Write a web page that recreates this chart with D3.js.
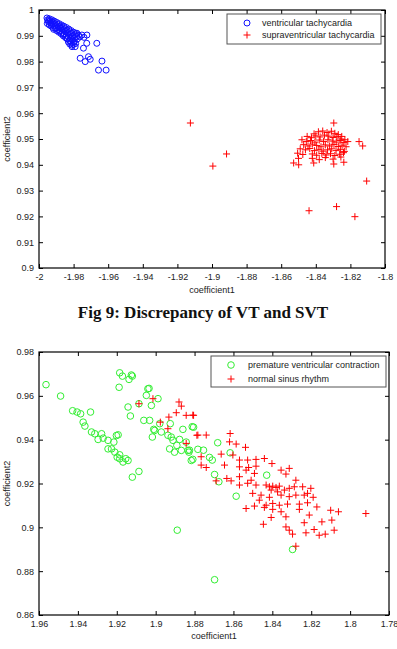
<!DOCTYPE html>
<html>
<head>
<meta charset="utf-8">
<script src="https://cdn.jsdelivr.net/npm/d3@7"></script>
<style>
  body { margin: 0; background: #fff; }
</style>
</head>
<body>
<script>
// ---- data: Fig 9, VT vs SVT (coefficient1, coefficient2)
const vtPoints = [
  [-1.9954,0.9969],[-1.9950,0.9962],[-1.9946,0.9955],[-1.9940,0.9966],[-1.9936,0.9958],[-1.9932,0.9950],
  [-1.9926,0.9962],[-1.9922,0.9953],[-1.9918,0.9945],[-1.9912,0.9957],[-1.9908,0.9948],[-1.9904,0.9940],
  [-1.9898,0.9952],[-1.9894,0.9944],[-1.9890,0.9935],[-1.9884,0.9947],[-1.9880,0.9938],[-1.9876,0.9930],
  [-1.9870,0.9942],[-1.9866,0.9933],[-1.9862,0.9924],[-1.9856,0.9937],[-1.9852,0.9928],[-1.9848,0.9918],
  [-1.9842,0.9932],[-1.9838,0.9922],[-1.9834,0.9912],[-1.9828,0.9926],[-1.9824,0.9916],[-1.9820,0.9906],
  [-1.9814,0.9920],[-1.9810,0.9910],[-1.9806,0.9900],[-1.9800,0.9914],[-1.9796,0.9904],[-1.9792,0.9894],
  [-1.9786,0.9908],[-1.9782,0.9898],[-1.9778,0.9888],[-1.9772,0.9902],[-1.9781,0.9910],[-1.9752,0.9903],
  [-1.9723,0.9903],[-1.9809,0.9858],[-1.9810,0.9864],[-1.9791,0.9858],[-1.9724,0.9871],[-1.9666,0.9871],
  [-1.9743,0.9852],[-1.9762,0.9813],[-1.9714,0.9819],[-1.9733,0.9800],[-1.9704,0.9809],[-1.9636,0.9802],
  [-1.9656,0.9767],[-1.9612,0.9767],[-1.9840,0.9890],[-1.9860,0.9905],[-1.9820,0.9880],[-1.9800,0.9875],
  [-1.9952,0.9948],[-1.9940,0.9942],[-1.9930,0.9938],[-1.9920,0.9932],[-1.9915,0.9925],[-1.9905,0.9928],
  [-1.9898,0.9920],[-1.9890,0.9924],[-1.9885,0.9914],[-1.9878,0.9918],[-1.9872,0.9908],[-1.9866,0.9914],
  [-1.9860,0.9900],[-1.9855,0.9908],[-1.9848,0.9894],[-1.9842,0.9902],[-1.9836,0.9888],[-1.9830,0.9895],
  [-1.9825,0.9882],[-1.9818,0.9890],[-1.9814,0.9874],[-1.9806,0.9884],[-1.9800,0.9868],[-1.9795,0.9878],
  [-1.9788,0.9870],[-1.9830,0.9876],[-1.9822,0.9868],[-1.9944,0.9960],[-1.9928,0.9944],[-1.9900,0.9930],
  [-1.9764,0.9896],[-1.9740,0.9894]
];
const svtPoints = [
  [-1.8410,0.9520],[-1.8385,0.9528],[-1.8360,0.9531],[-1.8335,0.9525],[-1.8310,0.9530],[-1.8290,0.9522],
  [-1.8270,0.9517],[-1.8250,0.9510],[-1.8450,0.9510],[-1.8425,0.9505],[-1.8400,0.9512],[-1.8375,0.9508],
  [-1.8350,0.9515],[-1.8325,0.9511],[-1.8300,0.9506],[-1.8278,0.9509],[-1.8255,0.9500],[-1.8232,0.9497],
  [-1.8480,0.9497],[-1.8455,0.9490],[-1.8430,0.9494],[-1.8405,0.9488],[-1.8380,0.9496],[-1.8355,0.9490],
  [-1.8330,0.9497],[-1.8305,0.9492],[-1.8282,0.9488],[-1.8260,0.9494],[-1.8238,0.9486],[-1.8215,0.9490],
  [-1.8470,0.9478],[-1.8445,0.9473],[-1.8420,0.9480],[-1.8395,0.9475],[-1.8370,0.9470],[-1.8345,0.9477],
  [-1.8320,0.9473],[-1.8295,0.9479],[-1.8270,0.9471],[-1.8248,0.9476],[-1.8225,0.9470],[-1.8490,0.9462],
  [-1.8460,0.9458],[-1.8435,0.9463],[-1.8408,0.9455],[-1.8382,0.9460],[-1.8357,0.9453],[-1.8332,0.9458],
  [-1.8308,0.9462],[-1.8283,0.9455],[-1.8258,0.9460],[-1.8235,0.9452],[-1.8505,0.9445],[-1.8475,0.9440],
  [-1.8420,0.9442],[-1.8395,0.9437],[-1.8365,0.9444],[-1.8340,0.9438],[-1.8315,0.9443],[-1.8290,0.9436],
  [-1.8262,0.9441],[-1.8240,0.9447],[-1.8420,0.9425],[-1.8380,0.9420],[-1.8345,0.9428],[-1.8300,0.9422],
  [-1.8255,0.9430],[-1.8528,0.9407],[-1.8499,0.9400],[-1.8412,0.9407],[-1.8296,0.9403],[-1.8238,0.9410],
  [-1.8500,0.9425],[-1.8296,0.9562],[-1.8129,0.9473],[-1.8150,0.9490],[-1.8106,0.9337],[-1.8439,0.9222],
  [-1.8280,0.9238],[-1.8174,0.9199],[-1.8995,0.9395],[-1.8916,0.9442],[-1.9125,0.9562]
];
const topXTicks = [-2, -1.98, -1.96, -1.94, -1.92, -1.9, -1.88, -1.86, -1.84, -1.82, -1.8];
const topXLabels = ["-2", "-1.98", "-1.96", "-1.94", "-1.92", "-1.9", "-1.88", "-1.86", "-1.84", "-1.82", "-1.8"];
const topYTicks = [0.9, 0.91, 0.92, 0.93, 0.94, 0.95, 0.96, 0.97, 0.98, 0.99, 1];
const topYLabels = ["0.9", "0.91", "0.92", "0.93", "0.94", "0.95", "0.96", "0.97", "0.98", "0.99", "1"];
const topSeries = ["ventricular tachycardia", "supraventricular tachycardia"];

// ---- data: PVC vs NSR
const pvcPoints = [
  [1.9564,0.9651],[1.9489,0.9599],[1.9427,0.9532],[1.9404,0.9526],[1.9386,0.9518],[1.9335,0.9526],
  [1.9373,0.9480],[1.9364,0.9462],[1.9330,0.9435],[1.9313,0.9427],[1.9278,0.9427],[1.9270,0.9407],
  [1.9245,0.9397],[1.9193,0.9422],[1.9215,0.9389],[1.9227,0.9358],[1.9210,0.9343],[1.9198,0.9320],
  [1.9185,0.9313],[1.9142,0.9305],[1.9168,0.9298],[1.9120,0.9229],[1.9086,0.9255],[1.9185,0.9705],
  [1.9171,0.9690],[1.9120,0.9690],[1.9137,0.9675],[1.9188,0.9639],[1.9040,0.9632],[1.9048,0.9602],
  [1.8988,0.9587],[1.9022,0.9556],[1.9086,0.9564],[1.9142,0.9549],[1.9130,0.9508],[1.9061,0.9488],
  [1.9031,0.9488],[1.9010,0.9447],[1.8979,0.9473],[1.8925,0.9473],[1.9017,0.9412],[1.8971,0.9435],
  [1.8937,0.9420],[1.8911,0.9397],[1.8928,0.9358],[1.8891,0.9374],[1.8860,0.9447],[1.8843,0.9389],
  [1.8834,0.9351],[1.8817,0.9305],[1.8805,0.9457],[1.9125,0.9695],[1.9034,0.9634],[1.8812,0.9459],
  [1.8826,0.9352],[1.8783,0.9356],[1.8754,0.9352],[1.8723,0.9319],[1.8709,0.9307],[1.8809,0.9310],
  [1.8681,0.9386],[1.8617,0.9340],[1.8697,0.9241],[1.8675,0.9208],[1.8586,0.9142],[1.8429,0.9238],
  [1.8296,0.8899],[1.8889,0.8987],[1.8697,0.8761],[1.8829,0.9343],[1.9005,0.9442],[1.8920,0.9412],
  [1.8877,0.9401],[1.8903,0.9343],[1.8868,0.9351],[1.9296,0.9401],[1.9245,0.9358],[1.9202,0.9419],
  [1.9185,0.9331],[1.9154,0.9313]
];
const nsrPoints = [
  [1.9086,0.9564],[1.9014,0.9587],[1.8880,0.9572],[1.8868,0.9553],[1.8894,0.9523],[1.8843,0.9511],
  [1.8805,0.9511],[1.8932,0.9503],[1.8937,0.9450],[1.8976,0.9480],[1.8788,0.9420],[1.8809,0.9512],
  [1.8783,0.9421],[1.8740,0.9421],[1.8617,0.9428],[1.8620,0.9390],[1.8586,0.9380],[1.8538,0.9365],
  [1.8663,0.9334],[1.8603,0.9330],[1.8569,0.9307],[1.8766,0.9322],[1.8766,0.9284],[1.8740,0.9273],
  [1.8646,0.9284],[1.8527,0.9307],[1.8484,0.9310],[1.8441,0.9314],[1.8484,0.9279],[1.8402,0.9291],
  [1.8535,0.9261],[1.8492,0.9246],[1.8355,0.9261],[1.8313,0.9269],[1.8330,0.9243],[1.8279,0.9215],
  [1.8689,0.9212],[1.8634,0.9223],[1.8612,0.9212],[1.8569,0.9193],[1.8569,0.9231],[1.8527,0.9201],
  [1.8509,0.9215],[1.8484,0.9193],[1.8432,0.9193],[1.8415,0.9185],[1.8398,0.9188],[1.8381,0.9182],
  [1.8364,0.9188],[1.8406,0.9170],[1.8373,0.9162],[1.8338,0.9170],[1.8313,0.9178],[1.8287,0.9185],
  [1.8244,0.9185],[1.8202,0.9178],[1.8219,0.9155],[1.8190,0.9137],[1.8501,0.9155],[1.8458,0.9147],
  [1.8355,0.9147],[1.8415,0.9137],[1.8313,0.9140],[1.8279,0.9147],[1.8236,0.9147],[1.8467,0.9124],
  [1.8398,0.9109],[1.8432,0.9101],[1.8364,0.9101],[1.8322,0.9106],[1.8261,0.9106],[1.8219,0.9112],
  [1.8535,0.9086],[1.8492,0.9097],[1.8441,0.9091],[1.8398,0.9082],[1.8355,0.9071],[1.8261,0.9082],
  [1.8210,0.9056],[1.8171,0.9093],[1.8100,0.9078],[1.8060,0.9071],[1.7919,0.9063],[1.8406,0.9045],
  [1.8330,0.9048],[1.8446,0.9014],[1.8330,0.9002],[1.8236,0.9021],[1.8145,0.9025],[1.8094,0.9033],
  [1.8296,0.8969],[1.8227,0.8975],[1.8185,0.8990],[1.8159,0.8964],[1.8128,0.8969],[1.8082,0.8987],
  [1.8279,0.8914],[1.8313,0.8987],[1.8843,0.9383],[1.8569,0.9276],[1.8522,0.9273]
];
const botXTicks = [1.96, 1.94, 1.92, 1.9, 1.88, 1.86, 1.84, 1.82, 1.8, 1.78];
const botXLabels = ["1.96", "1.94", "1.92", "1.9", "1.88", "1.86", "1.84", "1.82", "1.8", "1.78"];
const botYTicks = [0.86, 0.88, 0.9, 0.92, 0.94, 0.96, 0.98];
const botYLabels = ["0.86", "0.88", "0.9", "0.92", "0.94", "0.96", "0.98"];
const botSeries = ["premature ventricular contraction", "normal sinus rhythm"];

const caption = "Fig 9: Discrepancy of VT and SVT";

const sans = "Liberation Sans, Arial, sans-serif";

const svg = d3.select("body")
  .append("svg")
  .attr("width", 397)
  .attr("height", 649);

const plusPath = "M-3.5,0H3.5M0,-3.5V3.5";

// draws one matlab-style scatter panel
function panel(o) {
  const x = d3.scaleLinear().domain(o.xDomain).range([o.left, o.right]);
  const y = d3.scaleLinear().domain(o.yDomain).range([o.bottom, o.top]);
  const g = svg.append("g");

  const fmt = (ticks, labels) => (d => labels[ticks.indexOf(d)]);

  g.append("g")
    .attr("transform", "translate(0," + o.bottom + ")")
    .call(d3.axisBottom(x).tickValues(o.xTicks).tickFormat(fmt(o.xTicks, o.xLabels))
      .tickSizeInner(-4).tickSizeOuter(0).tickPadding(6));
  g.append("g")
    .attr("transform", "translate(0," + o.top + ")")
    .call(d3.axisTop(x).tickValues(o.xTicks).tickFormat("").tickSizeInner(-4).tickSizeOuter(0));
  g.append("g")
    .attr("transform", "translate(" + o.left + ",0)")
    .call(d3.axisLeft(y).tickValues(o.yTicks).tickFormat(fmt(o.yTicks, o.yLabels))
      .tickSizeInner(-4).tickSizeOuter(0).tickPadding(5));
  g.append("g")
    .attr("transform", "translate(" + o.right + ",0)")
    .call(d3.axisRight(y).tickValues(o.yTicks).tickFormat("").tickSizeInner(-4).tickSizeOuter(0));

  g.selectAll(".domain").remove();
  g.selectAll(".tick line").attr("stroke", "#000");
  g.selectAll(".tick text")
    .attr("font-family", sans)
    .attr("font-size", 9)
    .attr("fill", "#222");

  // box
  g.append("rect")
    .attr("x", o.left).attr("y", o.top)
    .attr("width", o.right - o.left).attr("height", o.bottom - o.top)
    .attr("fill", "none").attr("stroke", "#000").attr("stroke-width", 1.2);

  // series 1: circles
  g.append("g").selectAll("circle")
    .data(o.circles)
    .enter().append("circle")
    .attr("cx", d => x(d[0]))
    .attr("cy", d => y(d[1]))
    .attr("r", o.r)
    .attr("fill", "none")
    .attr("stroke", o.circleColor)
    .attr("stroke-width", 1);

  // series 2: plus signs
  g.append("g").selectAll("path")
    .data(o.pluses)
    .enter().append("path")
    .attr("transform", d => "translate(" + x(d[0]) + "," + y(d[1]) + ")")
    .attr("d", plusPath)
    .attr("stroke", "#ff0000")
    .attr("stroke-width", 1);

  // legend
  const lg = o.legend;
  g.append("rect")
    .attr("x", lg.x).attr("y", lg.y)
    .attr("width", lg.w).attr("height", lg.h)
    .attr("fill", "#fff").attr("stroke", "#555").attr("stroke-width", 1);
  g.append("circle")
    .attr("cx", lg.mx).attr("cy", lg.row1)
    .attr("r", o.r).attr("fill", "none").attr("stroke", o.circleColor);
  g.append("path")
    .attr("transform", "translate(" + lg.mx + "," + lg.row2 + ")")
    .attr("d", plusPath).attr("stroke", "#ff0000");
  g.selectAll(".legtext")
    .data(o.series)
    .enter().append("text")
    .attr("class", "legtext")
    .attr("x", lg.tx)
    .attr("y", (d, i) => (i === 0 ? lg.row1 : lg.row2) + 3)
    .attr("font-family", sans)
    .attr("font-size", 9)
    .attr("fill", "#222")
    .text(d => d);

  // axis titles
  g.append("text")
    .attr("x", (o.left + o.right) / 2)
    .attr("y", o.xTitleY)
    .attr("text-anchor", "middle")
    .attr("font-family", sans)
    .attr("font-size", 9)
    .attr("fill", "#222")
    .text("coefficient1");
  g.append("text")
    .attr("transform", "translate(10," + (o.top + o.bottom) / 2 + ") rotate(-90)")
    .attr("text-anchor", "middle")
    .attr("font-family", sans)
    .attr("font-size", 9)
    .attr("fill", "#222")
    .text("coefficient2");
}

panel({
  left: 39, right: 385, top: 10, bottom: 268,
  xDomain: [-2, -1.8], yDomain: [0.9, 1],
  xTicks: topXTicks, xLabels: topXLabels, yTicks: topYTicks, yLabels: topYLabels,
  circles: vtPoints, pluses: svtPoints, circleColor: "#1010ff", r: 3,
  series: topSeries,
  legend: { x: 227, y: 14, w: 154, h: 30, mx: 247, tx: 262, row1: 23, row2: 35 },
  xTitleY: 293
});

panel({
  left: 39, right: 389, top: 352, bottom: 615,
  xDomain: [1.96, 1.78], yDomain: [0.86, 0.98],
  xTicks: botXTicks, xLabels: botXLabels, yTicks: botYTicks, yLabels: botYLabels,
  circles: pvcPoints, pluses: nsrPoints, circleColor: "#33ee33", r: 3.3,
  series: botSeries,
  legend: { x: 211, y: 356, w: 175, h: 31, mx: 231, tx: 248, row1: 365, row2: 379 },
  xTitleY: 639
});

svg.append("text")
  .attr("x", 203)
  .attr("y", 318)
  .attr("text-anchor", "middle")
  .attr("font-family", "Liberation Serif, Times New Roman, serif")
  .attr("font-weight", "bold")
  .attr("font-size", 17)
  .attr("fill", "#111")
  .text(caption);
</script>
</body>
</html>
